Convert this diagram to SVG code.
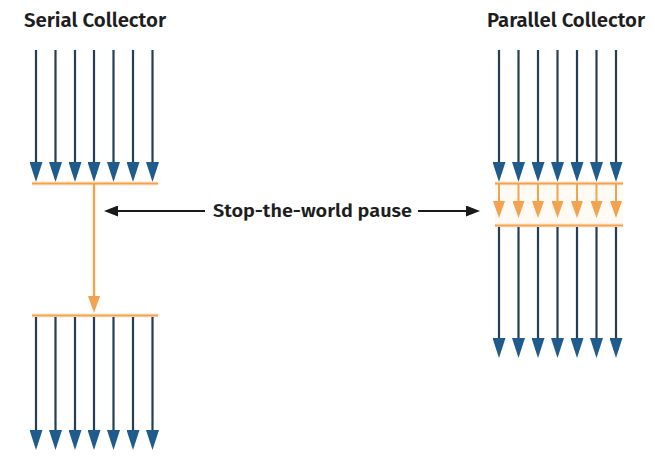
<svg xmlns="http://www.w3.org/2000/svg" width="655" height="457" viewBox="0 0 655 457">
<defs>
<style>
.title{font-family:"Fira Sans","Liberation Sans",Arial,sans-serif;font-weight:600;font-size:20px;fill:#1e1e1e}
.label{font-family:"Fira Sans","Liberation Sans",Arial,sans-serif;font-weight:600;font-size:18.5px;fill:#1e1e1e}
.blue{stroke:#263d55;stroke-width:2.2;fill:none;marker-end:url(#bh)}
.or{stroke:#f3a24e;stroke-width:2;fill:none}
.orglow{stroke:#fbdcb8;stroke-width:4.5;fill:none;stroke-opacity:0.5}
.ora{stroke:#f3a24e;stroke-width:2;fill:none;marker-end:url(#oh)}
.blk{stroke:#1a1a1a;stroke-width:2.2;fill:none;marker-end:url(#kh)}
</style>
<marker id="bh" markerUnits="userSpaceOnUse" markerWidth="20" markerHeight="13" viewBox="0 0 20 13" refX="8" refY="6.5" orient="auto">
<path d="M0,0 L20,6.5 L0,13 Z" fill="#1f5b8d"/>
</marker>
<marker id="oh" markerUnits="userSpaceOnUse" markerWidth="17" markerHeight="12" viewBox="0 0 17 12" refX="7" refY="6" orient="auto">
<path d="M0,0 L17,6 L0,12 Z" fill="#f3a24e"/>
</marker>
<marker id="kh" markerUnits="userSpaceOnUse" markerWidth="14" markerHeight="11" viewBox="0 0 14 11" refX="4" refY="5.5" orient="auto">
<path d="M0,0 L14,5.5 L0,11 Z" fill="#1a1a1a"/>
</marker>
</defs>
<rect width="655" height="457" fill="#ffffff"/>

<g id="serial-title"><text class="title" x="24" y="27" textLength="142" lengthAdjust="spacingAndGlyphs">Serial Collector</text></g>
<g id="parallel-title"><text class="title" x="487" y="27" textLength="158" lengthAdjust="spacingAndGlyphs">Parallel Collector</text></g>

<g id="serial-collector">
<g id="serial-pre-threads">
<line class="blue" x1="36" y1="50" x2="36" y2="170"/>
<line class="blue" x1="55.5" y1="50" x2="55.5" y2="170"/>
<line class="blue" x1="75" y1="50" x2="75" y2="170"/>
<line class="blue" x1="94" y1="50" x2="94" y2="170"/>
<line class="blue" x1="113.5" y1="50" x2="113.5" y2="170"/>
<line class="blue" x1="133" y1="50" x2="133" y2="170"/>
<line class="blue" x1="152.5" y1="50" x2="152.5" y2="170"/>
</g>
<g id="serial-pause">
<line class="orglow" x1="32" y1="183.5" x2="158" y2="183.5"/>
<line class="orglow" x1="94" y1="184" x2="94" y2="300"/>
<line class="orglow" x1="32" y1="315.5" x2="158" y2="315.5"/>
<line class="or" x1="32" y1="183.5" x2="158" y2="183.5"/>
<line class="ora" x1="94" y1="184" x2="94" y2="303"/>
<line class="or" x1="32" y1="315.5" x2="158" y2="315.5"/>
</g>
<g id="serial-post-threads">
<line class="blue" x1="36" y1="317" x2="36" y2="438"/>
<line class="blue" x1="55.5" y1="317" x2="55.5" y2="438"/>
<line class="blue" x1="75" y1="317" x2="75" y2="438"/>
<line class="blue" x1="94" y1="317" x2="94" y2="438"/>
<line class="blue" x1="113.5" y1="317" x2="113.5" y2="438"/>
<line class="blue" x1="133" y1="317" x2="133" y2="438"/>
<line class="blue" x1="152.5" y1="317" x2="152.5" y2="438"/>
</g>
</g>

<g id="parallel-collector">
<g id="parallel-pre-threads">
<line class="blue" x1="499" y1="50" x2="499" y2="170"/>
<line class="blue" x1="518.5" y1="50" x2="518.5" y2="170"/>
<line class="blue" x1="538" y1="50" x2="538" y2="170"/>
<line class="blue" x1="557.5" y1="50" x2="557.5" y2="170"/>
<line class="blue" x1="577" y1="50" x2="577" y2="170"/>
<line class="blue" x1="596.5" y1="50" x2="596.5" y2="170"/>
<line class="blue" x1="616" y1="50" x2="616" y2="170"/>
</g>
<g id="parallel-pause">
<rect x="495" y="184" width="128" height="41" fill="#fffaf4"/>
<line class="orglow" x1="495" y1="183.5" x2="623" y2="183.5"/>
<line class="orglow" x1="495" y1="225.5" x2="623" y2="225.5"/>
<line class="or" x1="495" y1="183.5" x2="623" y2="183.5"/>
<line class="or" x1="495" y1="225.5" x2="623" y2="225.5"/>
<line class="ora" x1="499" y1="184" x2="499" y2="208"/>
<line class="ora" x1="518.5" y1="184" x2="518.5" y2="208"/>
<line class="ora" x1="538" y1="184" x2="538" y2="208"/>
<line class="ora" x1="557.5" y1="184" x2="557.5" y2="208"/>
<line class="ora" x1="577" y1="184" x2="577" y2="208"/>
<line class="ora" x1="596.5" y1="184" x2="596.5" y2="208"/>
<line class="ora" x1="616" y1="184" x2="616" y2="208"/>
</g>
<g id="parallel-post-threads">
<line class="blue" x1="499" y1="227" x2="499" y2="346"/>
<line class="blue" x1="518.5" y1="227" x2="518.5" y2="346"/>
<line class="blue" x1="538" y1="227" x2="538" y2="346"/>
<line class="blue" x1="557.5" y1="227" x2="557.5" y2="346"/>
<line class="blue" x1="577" y1="227" x2="577" y2="346"/>
<line class="blue" x1="596.5" y1="227" x2="596.5" y2="346"/>
<line class="blue" x1="616" y1="227" x2="616" y2="346"/>
</g>
</g>

<g id="connectors">
<line class="blk" x1="205" y1="211" x2="114" y2="211"/>
<line class="blk" x1="418" y1="211" x2="470" y2="211"/>
</g>
<g id="pause-label"><text class="label" x="213" y="217" textLength="199" lengthAdjust="spacingAndGlyphs">Stop-the-world pause</text></g>
</svg>
